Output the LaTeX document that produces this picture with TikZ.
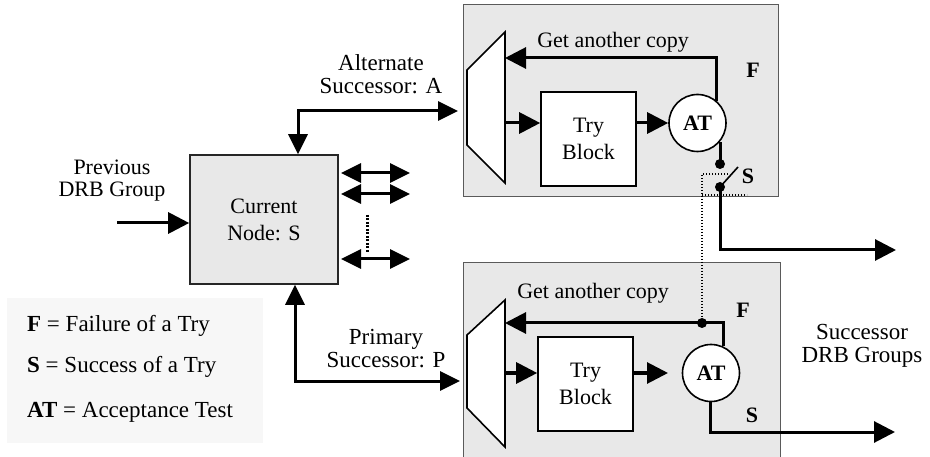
\documentclass[tikz,border=0pt]{standalone}
\usepackage{fontspec}
\setmainfont{Liberation Serif}
\usetikzlibrary{arrows.meta}
\definecolor{panel}{HTML}{E8E8E8}
\definecolor{legendbg}{HTML}{F7F7F7}
\definecolor{panelline}{HTML}{5A5A5A}
\tikzset{
  txt/.style={font=\fontsize{22}{22}\selectfont, inner sep=0pt, align=center},
  bigtxt/.style={font=\fontsize{23}{23}\selectfont, inner sep=0pt, align=center},
  legtxt/.style={font=\fontsize{23}{21}\selectfont, inner sep=0pt, anchor=west},
  boldtxt/.style={font=\fontsize{22}{21}\selectfont\bfseries, inner sep=0pt},
  panelbox/.style={draw=panelline, line width=1pt, fill=panel, inner sep=0pt},
  curbox/.style={draw=black!85, line width=1.6pt, fill=panel, inner sep=0pt,
    minimum width=148pt, minimum height=129pt, align=center,
    font=\fontsize{22}{27}\selectfont},
  trybox/.style={draw=black, line width=1.6pt, fill=white, inner sep=0pt,
    minimum width=95pt, minimum height=94pt, align=center,
    font=\fontsize{22}{27}\selectfont},
  atnode/.style={circle, draw=black, line width=1.6pt, fill=white, inner sep=0pt,
    minimum size=57pt, font=\fontsize{22}{24}\selectfont\bfseries},
  conn/.style={line width=3pt},
  arr/.style={conn, -{Triangle[length=21pt,width=21pt]}},
  dblarr/.style={conn, {Triangle[length=20pt,width=19pt]}-{Triangle[length=20pt,width=19pt]}},
  dotline/.style={line width=1.2pt, dash pattern=on 1.2pt off 1.8pt},
  muxshape/.style={draw=black, line width=1.6pt, fill=white, line join=miter},
  jdot/.style={circle, fill=black, inner sep=0pt, minimum size=10pt}
}
\begin{document}
\begin{tikzpicture}[x=1pt,y=-1pt]
\useasboundingbox (0,0) rectangle (930,457);
\fill[white] (0,0) rectangle (930,457);

% ---- panels ----
\node[panelbox, minimum width=315pt, minimum height=192pt] (topg) at (620.5,101) {};
\node[panelbox, minimum width=317pt, minimum height=198pt] (botg) at (621.5,362) {};

% ---- legend ----
\node[fill=legendbg, minimum width=256pt, minimum height=145pt, inner sep=0pt] (legend) at (135,370.5) {};
\node[legtxt] (legF) at (27,326) {\textbf{F} = Failure of a Try};
\node[legtxt] (legS) at (27,367) {\textbf{S} = Success of a Try};
\node[legtxt] (legAT) at (27,412) {\textbf{AT} = Acceptance Test};

% ---- current node ----
\node[curbox] (cur) at (264,219.5) {Current\\Node: S};

% previous group input
\node[txt] (prevlbl) at (112,181) {Previous\\DRB Group};
\coordinate (prevstart) at (117,223);
\draw[arr] (prevstart) -- (prevstart -| cur.west);

% links to the other nodes
\coordinate (lnkA) at (341,173);
\coordinate (lnkB) at (341,194);
\coordinate (lnkC) at (341,259);
\draw[dblarr] (lnkA) -- ++(69,0);
\draw[dblarr] (lnkB) -- ++(69,0);
\draw[dblarr] (lnkC) -- ++(69,0);
\draw[line width=3pt, dash pattern=on 2pt off 1.5pt] (367,215) -- (367,253);

% alternate successor
\node[bigtxt] (altlbl) at (381,74) {Alternate\\Successor: A};
\coordinate (altcorner) at (298,111);
\coordinate (altend) at (458,111);
\draw[dblarr] (altcorner |- cur.north) -- (altcorner) -- (altend);

% primary successor
\node[bigtxt] (prilbl) at (386,349) {Primary\\Successor: P};
\coordinate (pricorner) at (295,381);
\coordinate (priend) at (460,381);
\draw[dblarr] (pricorner |- cur.south) -- (pricorner) -- (priend);

% ---- upper (alternate) group ----
\draw[muxshape] (467,70) -- (505,32) -- (505,183) -- (467,145) -- cycle;
\coordinate (muxTout) at (505,123);
\coordinate (muxTfb) at (505,58);
\node[trybox] (tryT) at (588.5,139) {Try\\Block};
\node[atnode] (atT) at (697.5,123) {AT};
\draw[arr] (muxTout) -- (muxTout -| tryT.west);
\draw[arr] (tryT.east |- atT.west) -- (atT.west);
\coordinate (fbT) at (716,58);
\draw[arr] (fbT |- atT.48) -- (fbT) -- (muxTfb);
\node[txt] (getT) at (613,42) {Get another copy};
\node[boldtxt] (fT) at (753,70) {F};

% switch on the success path
\coordinate (swA) at (720,164);
\coordinate (swB) at (720,187);
\coordinate (swTip) at (738,167);
\draw[conn] (swA |- atT.-40) -- (swA);
\draw[line width=1.6pt] (swB) -- (swTip);
\node[jdot] (dA) at (swA) {};
\node[jdot] (dB) at (swB) {};
\node[boldtxt] (sT) at (748,176) {S};
\coordinate (outTcorner) at (720,250);
\coordinate (outTend) at (896,250);
\draw[arr] (swB) -- (outTcorner) -- (outTend);

% dotted control link from the lower group
\coordinate (ctlTop) at (702,174);
\coordinate (ctlBot) at (702,323);
\draw[dotline] (728,174) -- (ctlTop) -- (ctlBot);
\draw[dotline] (702,195) -- (747,195);

% ---- lower (primary) group ----
\draw[muxshape] (467,335) -- (505,300) -- (505,447) -- (467,408) -- cycle;
\coordinate (muxBout) at (505,373);
\coordinate (muxBfb) at (505,323);
\node[trybox] (tryB) at (585.5,384) {Try\\Block};
\node[atnode] (atB) at (711,373) {AT};
\coordinate (atBin) at (668,373);
\draw[arr] (muxBout) -- (muxBout -| tryB.west);
\draw[arr] (tryB.east |- atBin) -- (atBin);
\coordinate (fbB) at (723,323);
\draw[arr] (fbB |- atB.65) -- (fbB) -- (muxBfb);
\node[jdot] (dC) at (ctlBot) {};
\node[txt] (getB) at (593,293) {Get another copy};
\node[boldtxt] (fB) at (743,310) {F};
\coordinate (outBcorner) at (710,432);
\coordinate (outBend) at (895,432);
\draw[arr] (outBcorner |- atB.south) -- (outBcorner) -- (outBend);
\node[boldtxt] (sB) at (752,415) {S};

% successor label
\node[txt, font=\fontsize{23}{23}\selectfont] (succ) at (862,346) {Successor\\DRB Groups};
\end{tikzpicture}
\end{document}
